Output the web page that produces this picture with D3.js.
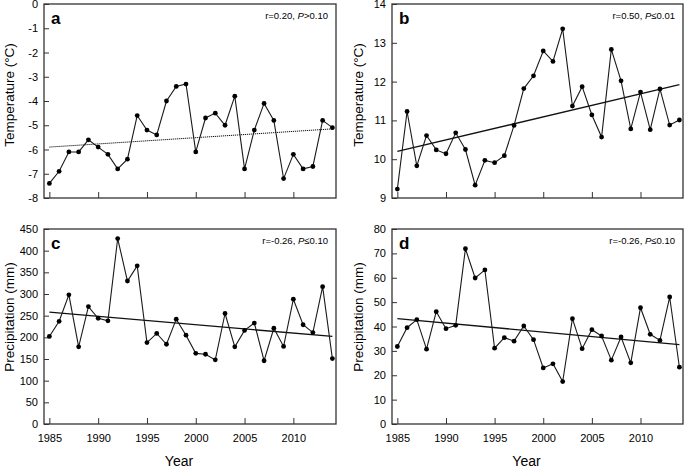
<!DOCTYPE html>
<html>
<head>
<meta charset="utf-8">
<script src="https://cdn.jsdelivr.net/npm/d3@7"></script>
<style>
  body { margin: 0; background: #fff; }
  text { font-family: "Liberation Sans", Arial, Helvetica, sans-serif; fill: #000; }
</style>
</head>
<body>
<svg id="chart" width="685" height="468"></svg>
<script>
// Data
var years = [1985, 1986, 1987, 1988, 1989, 1990, 1991, 1992, 1993, 1994,
             1995, 1996, 1997, 1998, 1999, 2000, 2001, 2002, 2003, 2004,
             2005, 2006, 2007, 2008, 2009, 2010, 2011, 2012, 2013, 2014];
var yearTicks = [1985, 1990, 1995, 2000, 2005, 2010];

var tempA = [-7.4, -6.9, -6.1, -6.1, -5.6, -5.9, -6.2, -6.8, -6.4, -4.6,
             -5.2, -5.4, -4.0, -3.4, -3.3, -6.1, -4.7, -4.5, -5.0, -3.8,
             -6.8, -5.2, -4.1, -4.8, -7.2, -6.2, -6.8, -6.7, -4.8, -5.1];
var tempB = [9.23, 11.23, 9.83, 10.61, 10.24, 10.14, 10.68, 10.25, 9.33, 9.97,
             9.91, 10.09, 10.87, 11.82, 12.15, 12.79, 12.52, 13.36, 11.37, 11.87,
             11.14, 10.57, 12.83, 12.02, 10.78, 11.73, 10.76, 11.81, 10.88, 11.01];
var precipC = [202, 237, 298, 178, 271, 244, 238, 428, 330, 365,
               188, 209, 184, 242, 205, 163, 161, 148, 255, 178,
               216, 233, 146, 221, 179, 288, 229, 211, 317, 151];
var precipD = [31.8, 39.5, 42.8, 30.7, 46.1, 39.1, 40.5, 71.9, 59.9, 63.2,
               31.1, 35.4, 34.0, 40.2, 34.6, 23.0, 24.7, 17.4, 43.2, 30.9,
               38.7, 36.1, 26.2, 35.7, 25.1, 47.7, 36.8, 34.3, 52.1, 23.3];

// trend lines: value at first and last year
var trendYears = [1985, 2014];
var trendA = [-5.9, -5.15];
var trendB = [10.2, 11.92];
var trendC = [258, 202];
var trendD = [43.2, 32.6];

var ticksA = [0, -1, -2, -3, -4, -5, -6, -7, -8];
var ticksB = [9, 10, 11, 12, 13, 14];
var ticksC = [0, 50, 100, 150, 200, 250, 300, 350, 400, 450];
var ticksD = [0, 10, 20, 30, 40, 50, 60, 70, 80];

var svg = d3.select('#chart');
// plain hyphen minus like the original, not the unicode minus d3 uses
var plain = function(d) { return String(d); };

var drawPanel = function(p) {
  var g = svg.append('g');
  var x = d3.scaleLinear().domain([1984.45, 2014.37]).range([p.x0, p.x1]);
  var y = d3.scaleLinear().domain(p.domain).range([p.y1, p.y0]);

  // y axis, ticks pointing in
  var ya = g.append('g')
    .attr('transform', 'translate(' + p.x0 + ',0)')
    .call(d3.axisLeft(y).tickValues(p.ticks).tickFormat(plain)
      .tickSizeInner(-5).tickSizeOuter(0).tickPadding(6));
  ya.select('.domain').remove();
  ya.selectAll('line').attr('stroke', '#333');
  ya.selectAll('text').style('font-size', '11px');

  // x axis, ticks pointing in
  var xa = g.append('g')
    .attr('transform', 'translate(0,' + p.y1 + ')')
    .call(d3.axisBottom(x).tickValues(yearTicks).tickFormat(p.xLabels ? plain : '')
      .tickSizeInner(-6).tickSizeOuter(0).tickPadding(10));
  xa.select('.domain').remove();
  xa.selectAll('line').attr('stroke', '#333');
  xa.selectAll('text').style('font-size', '11px');

  // frame
  g.append('rect')
    .attr('x', p.x0).attr('y', p.y0)
    .attr('width', p.x1 - p.x0).attr('height', p.y1 - p.y0)
    .attr('fill', 'none').attr('stroke', '#333').attr('stroke-width', 1.3);

  // trend
  g.append('line')
    .attr('x1', x(trendYears[0])).attr('y1', y(p.trend[0]))
    .attr('x2', x(trendYears[1])).attr('y2', y(p.trend[1]))
    .attr('stroke', '#111')
    .attr('stroke-width', p.dotted ? 1 : 1.3)
    .attr('stroke-dasharray', p.dotted ? '1.2,0.8' : null);

  // series
  var line = d3.line()
    .x(function(d, i) { return x(years[i]); })
    .y(function(d) { return y(d); });
  g.append('path').datum(p.values)
    .attr('d', line)
    .attr('fill', 'none').attr('stroke', '#1a1a1a').attr('stroke-width', 1.1);
  g.selectAll('circle').data(p.values)
    .enter()
    .append('circle')
    .attr('cx', function(d, i) { return x(years[i]); })
    .attr('cy', function(d) { return y(d); })
    .attr('r', 2.4)
    .attr('fill', '#000');

  // panel letter
  g.append('text')
    .attr('x', p.x0 + 7).attr('y', p.y0 + 20)
    .style('font-size', '17px').style('font-weight', 'bold')
    .text(p.letter);

  // statistics
  var st = g.append('text')
    .attr('x', p.x1 - 8).attr('y', p.y0 + 15)
    .attr('text-anchor', 'end')
    .style('font-size', '9.5px');
  st.append('tspan').text(p.stat[0]);
  st.append('tspan').style('font-style', 'italic').text('P');
  st.append('tspan').text(p.stat[1]);

  // y title
  g.append('text')
    .attr('transform', 'translate(' + p.titleX + ',' + p.titleY + ') rotate(-90)')
    .attr('text-anchor', 'middle')
    .style('font-size', '13.5px')
    .text(p.title);

  if (p.xLabels) {
    g.append('text')
      .attr('x', (p.x0 + p.x1) / 2 - 11).attr('y', 466)
      .attr('text-anchor', 'middle')
      .style('font-size', '14px')
      .text('Year');
  }
};

var panels = [
  {letter: 'a', values: tempA, trend: trendA, ticks: ticksA, domain: [-8, 0], dotted: true,
   x0: 44, x1: 336, y0: 4, y1: 198, stat: ['r=0.20, ', '>0.10'],
   title: 'Temperature (\u00b0C)', titleX: 14, titleY: 95, xLabels: false},
  {letter: 'b', values: tempB, trend: trendB, ticks: ticksB, domain: [9, 14], dotted: false,
   x0: 392, x1: 683, y0: 4, y1: 198, stat: ['r=0.50, ', '\u22640.01'],
   title: 'Temperature (\u00b0C)', titleX: 363, titleY: 95, xLabels: false},
  {letter: 'c', values: precipC, trend: trendC, ticks: ticksC, domain: [0, 450], dotted: false,
   x0: 44, x1: 336, y0: 229, y1: 424, stat: ['r=-0.26, ', '\u22640.10'],
   title: 'Precipitation (mm)', titleX: 14, titleY: 317, xLabels: true},
  {letter: 'd', values: precipD, trend: trendD, ticks: ticksD, domain: [0, 80], dotted: false,
   x0: 392, x1: 683, y0: 229, y1: 424, stat: ['r=-0.26, ', '\u22640.10'],
   title: 'Precipitation (mm)', titleX: 363, titleY: 317, xLabels: true}
];

panels.forEach(function(p) { drawPanel(p); });
</script>
</body>
</html>
